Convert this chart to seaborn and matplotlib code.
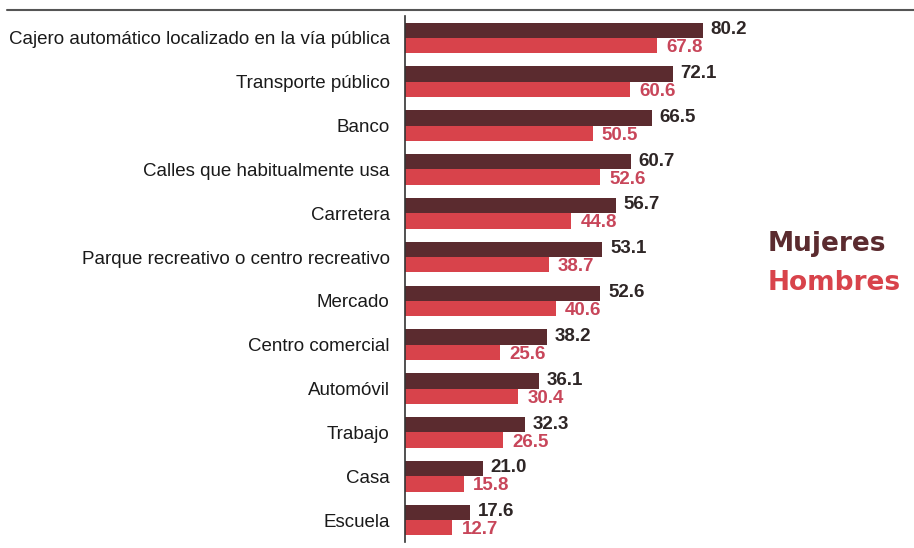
import numpy as np
import pandas as pd
import seaborn as sns
import matplotlib.pyplot as plt

lugares = ["Cajero automático localizado en la vía pública", "Transporte público", "Banco",
           "Calles que habitualmente usa", "Carretera", "Parque recreativo o centro recreativo",
           "Mercado", "Centro comercial", "Automóvil", "Trabajo", "Casa", "Escuela"]
mujeres = [80.2, 72.1, 66.5, 60.7, 56.7, 53.1, 52.6, 38.2, 36.1, 32.3, 21.0, 17.6]
hombres = [67.8, 60.6, 50.5, 52.6, 44.8, 38.7, 40.6, 25.6, 30.4, 26.5, 15.8, 12.7]

df = pd.DataFrame({
    "lugar": lugares * 2,
    "sexo": ["Mujeres"] * len(lugares) + ["Hombres"] * len(lugares),
    "valor": mujeres + hombres,
})

c_muj = "#5b2b2f"
c_hom = "#d8434b"

sns.set_style("white")
plt.rcParams['font.family'] = ['Liberation Sans', 'DejaVu Sans']

fig = plt.figure(figsize=(9.14, 5.48), dpi=100)
ax = fig.add_axes([405 / 914, 1 - 542 / 548, 1 - 405 / 914, (542 - 16) / 548])

sns.barplot(data=df, y="lugar", x="valor", hue="sexo", orient="h",
            palette={"Mujeres": c_muj, "Hombres": c_hom}, width=0.7,
            saturation=1, legend=False, linewidth=0, ax=ax)

ax.set_xlim(0, 137)
ax.set_ylim(len(lugares) - 0.5, -0.5)
ax.set_xlabel("")
ax.set_ylabel("")
ax.set_xticks([])
ax.set_yticks(range(len(lugares)))
ax.set_yticklabels(lugares, fontsize=13.5, color="#1a1a1a")
ax.tick_params(axis="y", which="major", length=0, pad=11)
ax.set_yticks(np.arange(-0.5, len(lugares), 1), minor=True)
ax.tick_params(axis="y", which="minor", length=4, color="#444444", width=1)
for s in ["top", "right", "bottom"]:
    ax.spines[s].set_visible(False)
ax.spines["left"].set_color("#333333")
ax.spines["left"].set_linewidth(1.2)

# etiquetas de valores
for i, (m, h) in enumerate(zip(mujeres, hombres)):
    ax.text(m + 2.1, i - 0.19, f"{m:.1f}", va="center", ha="left",
            fontsize=13.5, fontweight="bold", color="#2e2626")
    ax.text(h + 2.5, i + 0.22, f"{h:.1f}", va="center", ha="left",
            fontsize=13.5, fontweight="bold", color="#c8465a")

# linea superior
fig.add_artist(plt.Line2D([7 / 914, 1], [1 - 10 / 548, 1 - 10 / 548],
                          color="#555555", linewidth=1.5))

fig.text(768 / 914, 1 - 244 / 548, "Mujeres", fontsize=19, fontweight="bold",
         family="DejaVu Sans", color=c_muj, va="center", ha="left")
fig.text(768 / 914, 1 - 283 / 548, "Hombres", fontsize=19, fontweight="bold",
         family="DejaVu Sans", color=c_hom, va="center", ha="left")

fig.savefig("out.png", dpi=100)
